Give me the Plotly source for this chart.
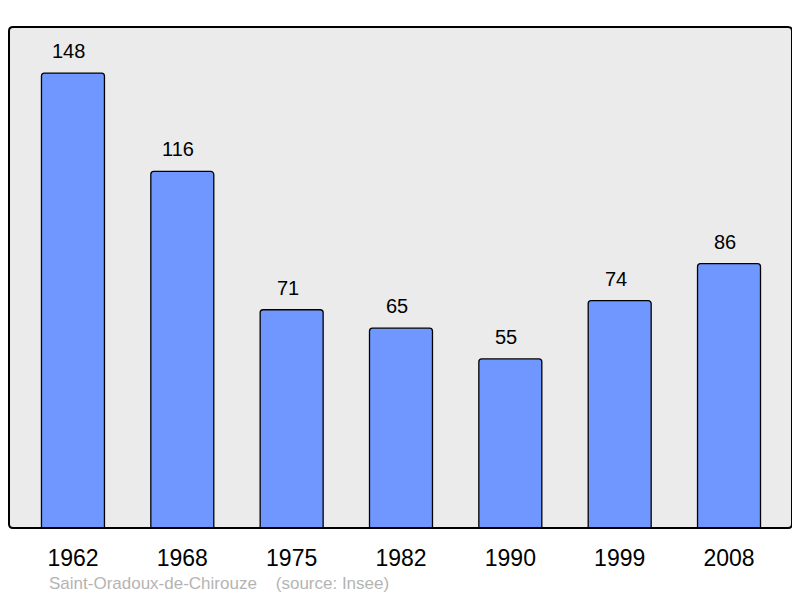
import plotly.graph_objects as go

# population by census year
years = ['1962', '1968', '1975', '1982', '1990', '1999', '2008']
population = [148, 116, 71, 65, 55, 74, 86]
caption = 'Saint-Oradoux-de-Chirouze&nbsp;&nbsp;&nbsp; (source: Insee)'

FONT = 'Liberation Sans'

fig = go.Figure()

fig.add_trace(go.Bar(
    x=years,
    y=population,
    width=0.576,
    marker=dict(color='#7097ff', line=dict(color='black', width=1.3), cornerradius=3),
    hoverinfo='x+y',
))

# value labels above each bar (category axis -> use the category index)
for i, val in enumerate(population):
    fig.add_annotation(
        x=i, y=val, xref='x', yref='y', text=str(val), showarrow=False,
        yanchor='middle', yshift=22, xshift=-4,
        font=dict(size=20, color='black', family=FONT),
    )

fig.add_annotation(
    xref='paper', yref='paper', x=0.048, y=-0.11,
    xanchor='left', yanchor='middle', showarrow=False,
    text=caption,
    font=dict(size=17, color='#b4b4b4', family=FONT),
)

# frame round the plot area, slightly rounded corners
rx, ry = 4 / 783, 4 / 501
path = (f'M {rx},0 L {1-rx},0 Q 1,0 1,{ry} L 1,{1-ry} Q 1,1 {1-rx},1 '
        f'L {rx},1 Q 0,1 0,{1-ry} L 0,{ry} Q 0,0 {rx},0 Z')
fig.add_shape(type='path', path=path, xref='paper', yref='paper',
              line=dict(color='black', width=2), fillcolor='rgba(0,0,0,0)', layer='above')

fig.update_xaxes(
    type='category',
    range=[-0.585, 6.576], showgrid=False, zeroline=False,
    ticks='', ticklabelstandoff=14,
    tickfont=dict(size=23, color='black', family=FONT),
)
fig.update_yaxes(range=[0, 163], showgrid=False, zeroline=False,
                 showticklabels=False, ticks='')

# page body has an 8px margin, so the figure is 8px smaller and shifted
fig.update_layout(
    width=792, height=590,
    margin=dict(l=1, r=8, t=19, b=70),
    plot_bgcolor='#ebebeb',
    paper_bgcolor='white',
    showlegend=False,
)

fig.write_html("out.html")
